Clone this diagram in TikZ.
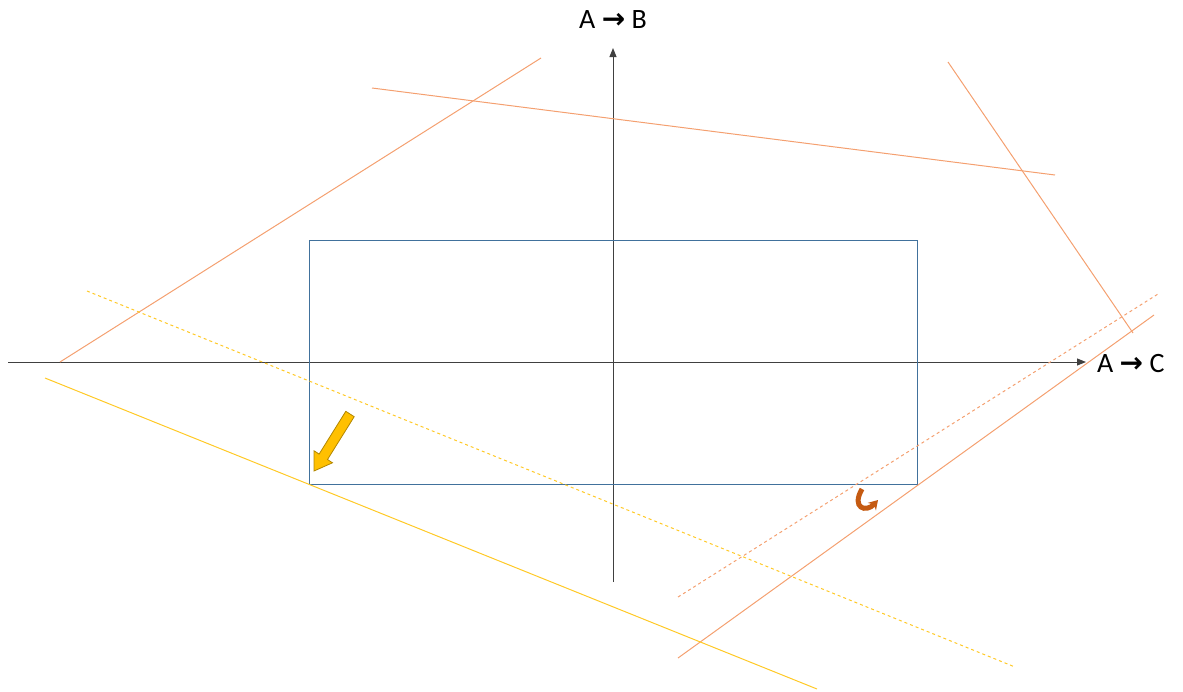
\documentclass[tikz,border=0pt]{standalone}
\usepackage{fontspec}
\setmainfont{Carlito}
\newfontfamily\arrowfont{DejaVu Sans}
\usetikzlibrary{arrows.meta}
\definecolor{axisgray}{HTML}{404040}
\definecolor{boxblue}{HTML}{41719C}
\definecolor{lorange}{HTML}{F4A070}
\definecolor{lyellow}{HTML}{FFC000}
\definecolor{dorange}{HTML}{C55A11}
\tikzset{
  axis/.style={draw=axisgray, line width=1pt, -{Triangle[length=9pt,width=7pt]}},
  oline/.style={draw=lorange, line width=1pt},
  yline/.style={draw=lyellow!85!white, line width=1pt},
  dline/.style={dash pattern=on 3pt off 3pt},
  lbl/.style={font=\fontsize{28}{32}\selectfont, inner sep=0pt},
}
\newcommand{\bigarr}{{\arrowfont\bfseries →}}
\begin{document}
\begin{tikzpicture}[x=1pt,y=-1pt]
\useasboundingbox (0,0) rectangle (1183,691);
% axes
\coordinate (xs) at (8,362);
\coordinate (xe) at (1086,362);
\coordinate (ys) at (613,582);
\coordinate (ye) at (613,48);
\draw[axis] (xs) -- (xe);
\draw[axis] (ys) -- (ye);
\node[lbl] (lb) at (613,20) {A \bigarr{} B};
\node[lbl, anchor=west] (lc) at (1097,364) {A \bigarr{} C};
% rectangle
\node[draw=boxblue, line width=1pt, minimum width=608pt, minimum height=244pt, inner sep=0pt] (box) at (613,362) {};
% orange lines
\coordinate (o1a) at (60,362); \coordinate (o1b) at (541,58);
\coordinate (o2a) at (372,88); \coordinate (o2b) at (1055,175);
\coordinate (o3a) at (948,62); \coordinate (o3b) at (1133,333);
\coordinate (o4a) at (678,658); \coordinate (o4b) at (1154,315);
\coordinate (o5a) at (678,597); \coordinate (o5b) at (1158,294);
\draw[oline] (o1a) -- (o1b);
\draw[oline] (o2a) -- (o2b);
\draw[oline] (o3a) -- (o3b);
\draw[oline] (o4a) -- (o4b);
\draw[oline, dline] (o5a) -- (o5b);
% yellow lines
\coordinate (y1a) at (45,378); \coordinate (y1b) at (817,689);
\coordinate (y2a) at (87,291); \coordinate (y2b) at (1015,667);
\draw[yline] (y1a) -- (y1b);
\draw[yline, dline] (y2a) -- (y2b);
% yellow block arrow
\draw[draw=lyellow!70!black, fill=lyellow, line width=0.8pt, line join=miter]
  (354.2,416.7) -- (327.5,459.5) -- (332.5,462.8) -- (314,471) -- (314.1,450.8) -- (319.1,454.1) -- (345.8,411.3) -- cycle;
% orange curved arrow
\draw[draw=dorange, line width=5pt, -{Stealth[length=9pt,width=11pt]}]
  (862,489) .. controls (851,508) and (866,513) .. (878,500);
\end{tikzpicture}
\end{document}
